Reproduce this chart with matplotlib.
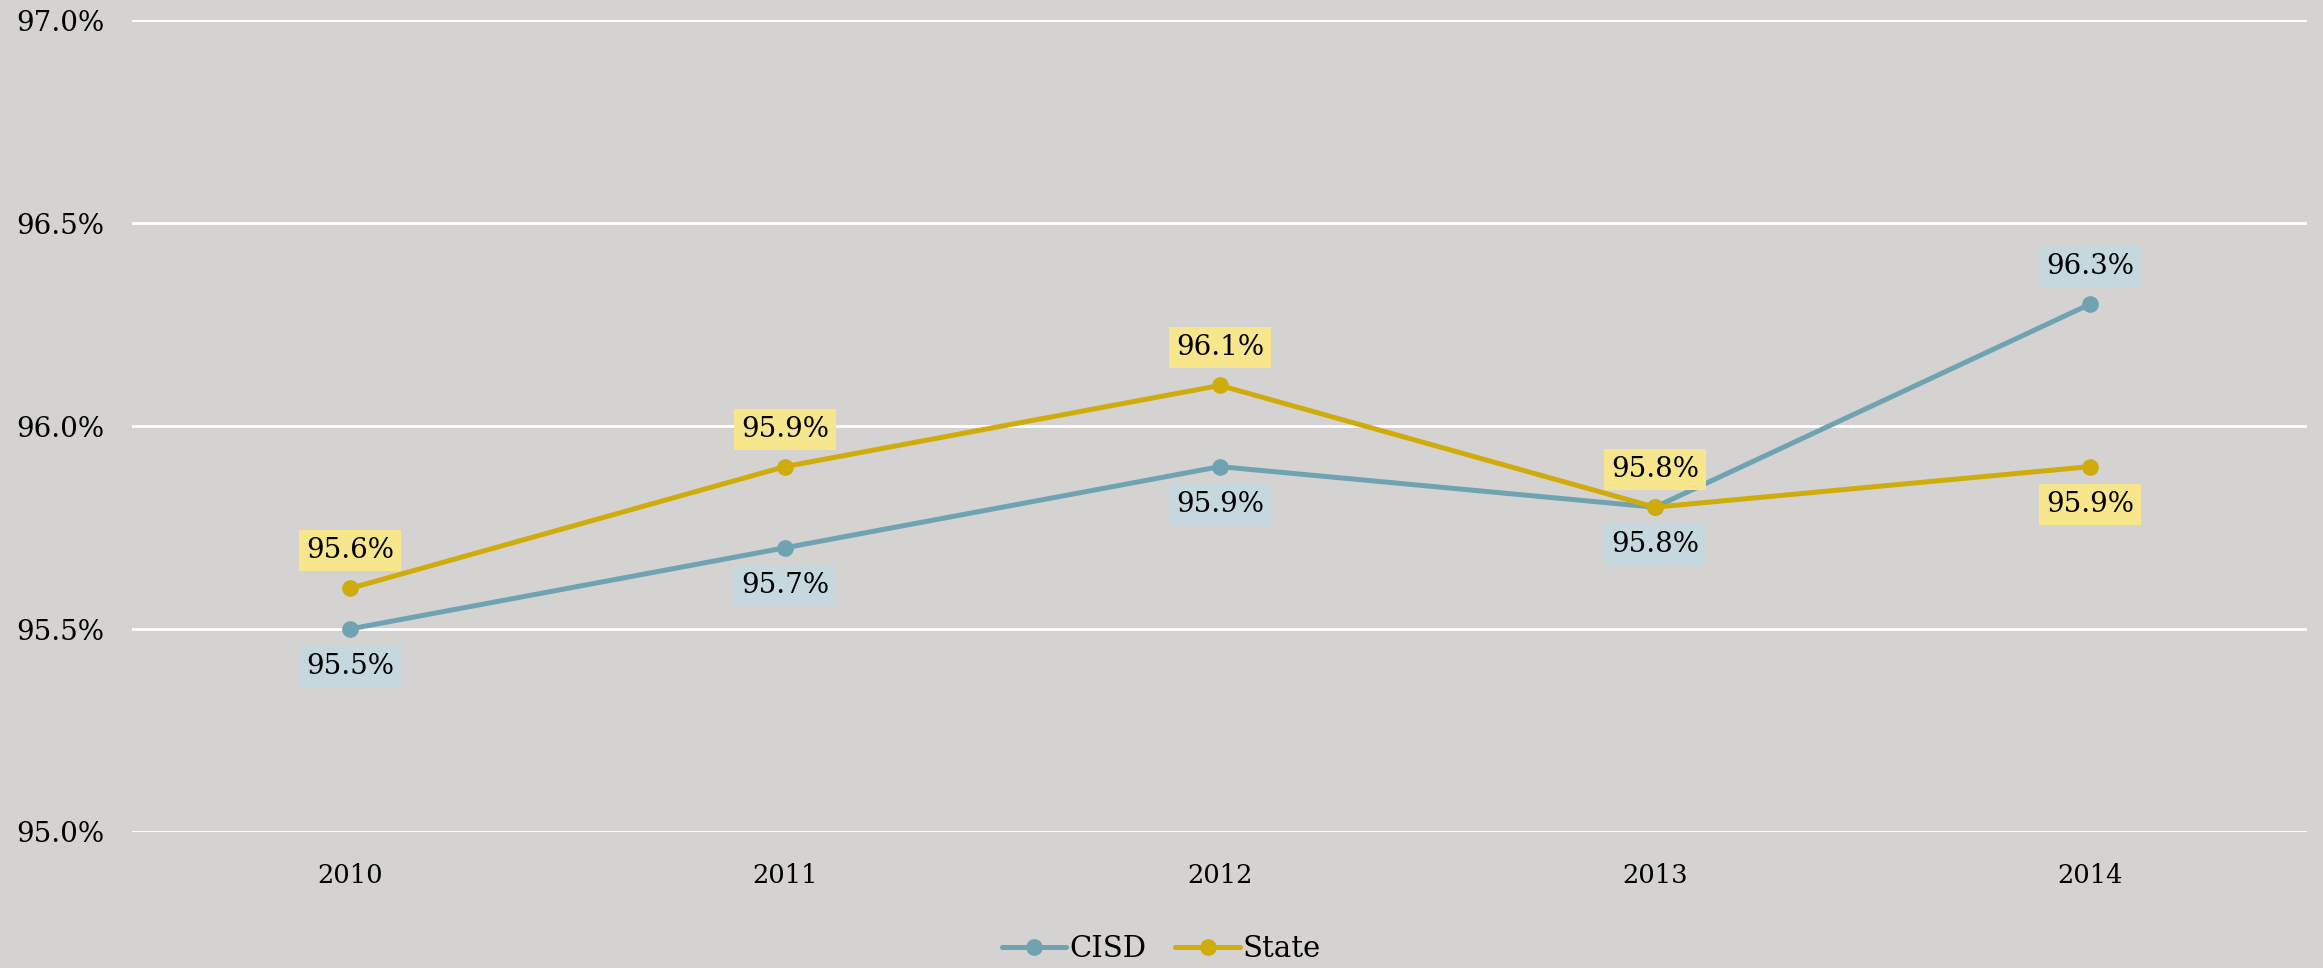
import matplotlib.pyplot as plt
import numpy as np

years = ["2010", "2011", "2012", "2013", "2014"]
cisd = [95.5, 95.7, 95.9, 95.8, 96.3]
state = [95.6, 95.9, 96.1, 95.8, 95.9]
# label placement: +1 above the point, -1 below
cisd_side = [-1, -1, -1, -1, 1]
state_side = [1, 1, 1, 1, -1]
yticks = [95.0, 95.5, 96.0, 96.5, 97.0]

bg = "#d4d3d1"
cisd_color = "#6fa3b2"
state_color = "#cfac0c"
cisd_box = "#c5d8de"
state_box = "#f7e68b"

plt.rcParams["font.family"] = ["DejaVu Serif"]

fig = plt.figure(figsize=(23.23, 9.68), dpi=100, facecolor=bg)
ax = fig.add_axes([0.057, 0.1405, 0.9363, 0.8388], facecolor=bg)

x = np.arange(len(years))


def draw_series(values, sides, color, box, label):
    ax.plot(x, values, color=color, linewidth=3.6, marker="o", markersize=11,
            label=label, zorder=3, solid_capstyle="round")
    for xi, v, s in zip(x, values, sides):
        ax.annotate(f"{v:.1f}%", (xi, v), xytext=(0, 27 * s), textcoords="offset points",
                    ha="center", va="center", fontsize=20, color="black", zorder=5,
                    bbox=dict(boxstyle="square,pad=0.25", facecolor=box, edgecolor="none"))


draw_series(cisd, cisd_side, cisd_color, cisd_box, "CISD")
draw_series(state, state_side, state_color, state_box, "State")

ax.set_xlim(-0.5, len(years) - 0.5)
ax.set_ylim(95.0, 97.0)
ax.set_yticks(yticks)
ax.set_yticklabels([f"{t:.1f}%" for t in yticks], fontsize=20)
ax.set_xticks(x)
ax.set_xticklabels(years, fontsize=18.5)
ax.tick_params(axis="both", length=0)
ax.tick_params(axis="x", pad=22)
ax.tick_params(axis="y", pad=20)
ax.grid(axis="y", color="white", linewidth=2)
ax.set_axisbelow(True)
for sp in ax.spines.values():
    sp.set_visible(False)

leg = fig.legend(loc="lower center", bbox_to_anchor=(0.5, -0.022), ncol=2, frameon=False,
                 fontsize=21, handlelength=2.2, columnspacing=1.0, handletextpad=0.1)

fig.savefig("out.png", dpi=100, facecolor=bg)
